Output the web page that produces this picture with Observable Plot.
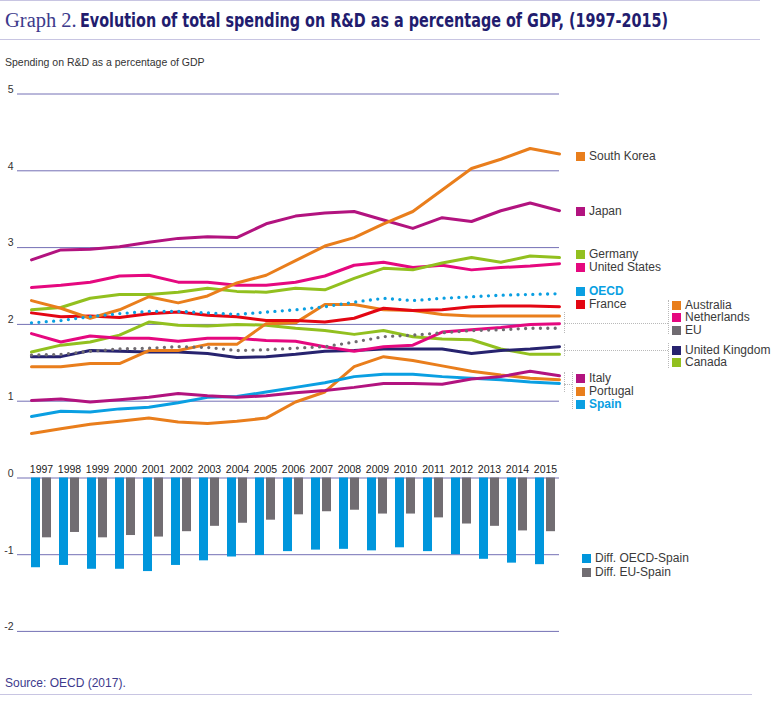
<!DOCTYPE html>
<html>
<head>
<meta charset="utf-8">
<script src="https://cdn.jsdelivr.net/npm/d3@7"></script>
<script src="https://cdn.jsdelivr.net/npm/@observablehq/plot@0.6"></script>
<style>
  html, body { margin: 0; padding: 0; background: #fff; overflow: hidden; }
  body { font-family: "Liberation Sans", Arial, sans-serif; }
  #wrap { position: relative; width: 775px; height: 701px; overflow: hidden; }
  .abs { position: absolute; }
  .rule { position: absolute; left: 0; height: 0; border-top: 1.5px solid #c8c5e2; }
  .leg { position: absolute; height: 11px; line-height: 11px; font-size: 12px; color: #3a3a3a; white-space: nowrap; }
  .leg .sq { position: absolute; left: 0; top: 1px; width: 9px; height: 9px; }
  .leg .tx { position: absolute; left: 13px; top: 0; height: 11px; line-height: 11px; }
  .br { position: absolute; border-color: #b9b9b9; border-style: dotted; border-width: 0; }
  #title { position: absolute; left: 5px; top: 8px; white-space: nowrap; line-height: 24px; height: 24px; }
  #t1 { font-family: "Liberation Serif", "DejaVu Serif", serif; font-size: 20.5px; color: #3d3a8c; display: inline-block; }
  #t2 { font-family: "DejaVu Sans Condensed", "Liberation Sans", sans-serif; font-weight: bold; font-size: 19px; color: #221c6e; display: inline-block; transform-origin: 0 50%; position: absolute; left: 75px; top: 0; }
</style>
</head>
<body>
<div id="wrap">
  <div class="rule" style="top:0px;width:760px"></div>
  <div id="title"><span id="t1">Graph 2.</span><span id="t2">Evolution of total spending on R&amp;D as a percentage of GDP, (1997-2015)</span></div>
  <div class="rule" style="top:39px;width:760px"></div>
  <div class="abs" style="left:5px;top:55px;font-size:10.5px;color:#333;line-height:14px">Spending on R&amp;D as a percentage of GDP</div>
  <div id="plotA" class="abs" style="left:0;top:70px"></div>
  <div id="plotB" class="abs" style="left:0;top:440px"></div>
  <div id="legend"></div>
  <div class="abs" style="left:5px;top:675px;font-size:12px;color:#3d3a8c;line-height:16px">Source: OECD (2017).</div>
  <div class="rule" style="top:694px;width:752px"></div>
</div>
<script>
// ---------- DATA ----------
const years = [1997,1998,1999,2000,2001,2002,2003,2004,2005,2006,2007,2008,2009,2010,2011,2012,2013,2014,2015];

const southKorea  = [2.31,2.21,2.08,2.19,2.36,2.28,2.37,2.54,2.64,2.83,3.02,3.13,3.31,3.47,3.75,4.03,4.15,4.29,4.22];
const japan       = [2.84,2.97,2.98,3.01,3.07,3.12,3.14,3.13,3.31,3.41,3.45,3.47,3.36,3.25,3.39,3.34,3.48,3.58,3.48];
const germany     = [2.19,2.22,2.34,2.39,2.39,2.42,2.47,2.43,2.42,2.47,2.45,2.60,2.73,2.71,2.80,2.87,2.81,2.89,2.87];
const unitedStates= [2.48,2.51,2.55,2.63,2.64,2.55,2.55,2.51,2.51,2.55,2.63,2.77,2.81,2.74,2.77,2.71,2.74,2.76,2.79];
const oecd        = [2.02,2.05,2.10,2.14,2.17,2.17,2.15,2.13,2.16,2.19,2.23,2.29,2.34,2.31,2.34,2.36,2.38,2.39,2.40];
const france      = [2.15,2.10,2.11,2.09,2.14,2.16,2.12,2.10,2.05,2.05,2.03,2.08,2.21,2.18,2.19,2.23,2.24,2.24,2.23];
const australia   = [1.45,1.45,1.49,1.49,1.66,1.66,1.74,1.74,2.01,2.02,2.26,2.26,2.19,2.18,2.13,2.11,2.11,2.11,2.11];
const netherlands = [1.88,1.77,1.85,1.82,1.82,1.78,1.82,1.82,1.79,1.78,1.71,1.65,1.71,1.73,1.90,1.93,1.96,2.00,2.01];
const eu          = [1.60,1.61,1.65,1.68,1.69,1.71,1.70,1.66,1.67,1.69,1.71,1.77,1.84,1.86,1.89,1.92,1.93,1.95,1.95];
const unitedKingdom=[1.58,1.58,1.66,1.65,1.64,1.64,1.62,1.57,1.58,1.61,1.65,1.66,1.68,1.68,1.68,1.62,1.66,1.68,1.71];
const canada      = [1.64,1.73,1.77,1.86,2.03,1.99,1.98,2.00,1.99,1.95,1.92,1.87,1.92,1.84,1.81,1.80,1.68,1.61,1.61];
const italy       = [1.01,1.03,0.99,1.02,1.05,1.10,1.07,1.05,1.07,1.11,1.14,1.18,1.23,1.23,1.22,1.29,1.32,1.39,1.33];
const spain       = [0.80,0.87,0.86,0.90,0.92,0.98,1.05,1.06,1.12,1.18,1.24,1.32,1.35,1.35,1.32,1.30,1.28,1.25,1.23];
const portugal    = [0.58,0.64,0.70,0.74,0.78,0.73,0.71,0.74,0.78,0.99,1.12,1.45,1.58,1.53,1.46,1.39,1.34,1.30,1.28];

const diffOecdSpain = [-1.17,-1.14,-1.19,-1.19,-1.22,-1.14,-1.08,-1.03,-1.01,-0.96,-0.94,-0.93,-0.95,-0.91,-0.96,-1.00,-1.06,-1.11,-1.13];
const diffEuSpain   = [-0.78,-0.71,-0.78,-0.75,-0.77,-0.70,-0.63,-0.59,-0.55,-0.48,-0.44,-0.42,-0.47,-0.47,-0.52,-0.60,-0.63,-0.69,-0.70];

const yTicksTop = [1,2,3,4,5];
const yTicksBottom = [0,-1,-2];

// ---------- STYLES ----------
const C = {
  orange: "#e97e1c", purple: "#b2137f", green: "#92c01f", pink: "#e5087f",
  blue: "#0a9fe2", red: "#e30613", grey: "#6f6b70", navy: "#27236f",
  grid: "#7470b5", barBlue: "#0096dc", barGrey: "#716d72"
};

const series = [
  {name: "Portugal", values: portugal, color: C.orange},
  {name: "Spain", values: spain, color: C.blue},
  {name: "Italy", values: italy, color: C.purple},
  {name: "Canada", values: canada, color: C.green},
  {name: "United Kingdom", values: unitedKingdom, color: C.navy},
  {name: "Netherlands", values: netherlands, color: C.pink},
  {name: "Australia", values: australia, color: C.orange},
  {name: "France", values: france, color: C.red},
  {name: "United States", values: unitedStates, color: C.pink},
  {name: "Germany", values: germany, color: C.green},
  {name: "Japan", values: japan, color: C.purple},
  {name: "South Korea", values: southKorea, color: C.orange}
];
const dotted = [
  {name: "EU", values: eu, color: C.grey},
  {name: "OECD", values: oecd, color: C.blue}
];
const rows = s => s.values.map((v, i) => ({year: years[i], value: v}));

const font = "'Liberation Sans', Arial, sans-serif";

// ---------- PLOT A: lines ----------
const plotA = Plot.plot({
  width: 775, height: 380,
  marginLeft: 17, marginRight: 216, marginTop: 10, marginBottom: 10,
  x: {domain: [1997, 2015], range: [31, 559], axis: null},
  y: {domain: [0, 5], range: [407.5, 23.5], axis: null},
  style: {background: "transparent", fontFamily: font, fontSize: "10.5px", color: "#333"},
  marks: [
    Plot.gridY(yTicksTop, {stroke: C.grid, strokeOpacity: 1, strokeWidth: 1}),
    Plot.axisY(yTicksTop, {tickSize: 0, tickPadding: 4, dy: -4.5, tickFormat: d => String(d), fill: "#333", label: null}),
    ...series.map(s => Plot.line(rows(s), {x: "year", y: "value", stroke: s.color, strokeWidth: 3, strokeLinejoin: "round"})),
    ...dotted.map(s => Plot.line(rows(s), {x: "year", y: "value", stroke: s.color, strokeWidth: 3.3, strokeDasharray: "0 7.4", strokeLinecap: "round"}))
  ]
});
document.getElementById("plotA").appendChild(plotA);

// ---------- PLOT B: bars ----------
const barRows = years.map((y, i) => ({year: String(y), oecd: diffOecdSpain[i], eu: diffEuSpain[i]}));
const plotB = Plot.plot({
  width: 775, height: 205,
  marginLeft: 17, marginRight: 216, marginTop: 37.5, marginBottom: 14.1,
  x: {type: "band", domain: years.map(String), range: [18, 567.5], padding: 0.28, axis: null},
  y: {domain: [-2, 0], range: [190.9, 37.5], axis: null},
  style: {background: "transparent", fontFamily: font, fontSize: "10.5px", color: "#333"},
  marks: [
    Plot.gridY(yTicksBottom, {stroke: C.grid, strokeOpacity: 1, strokeWidth: 1}),
    Plot.axisY(yTicksBottom, {tickSize: 0, tickPadding: 4, dy: -4.5, tickFormat: d => String(d), fill: "#333", label: null}),
    Plot.axisX({anchor: "top", tickSize: 0, tickPadding: 5, fontSize: 10.5, fill: "#222", label: null}),
    Plot.barY(barRows, {x: "year", y: "oecd", fill: C.barBlue, insetRight: 11}),
    Plot.barY(barRows, {x: "year", y: "eu", fill: C.barGrey, insetLeft: 11})
  ]
});
document.getElementById("plotB").appendChild(plotB);

// ---------- TITLE fit ----------
(function () {
  const t2 = document.getElementById("t2");
  const w = t2.getBoundingClientRect().width;
  const target = 588;
  if (w > 0) t2.style.transform = "scaleX(" + (target / w) + ")";
})();

// ---------- LEGEND (layout) ----------
const legendLayout = [
  {label: "South Korea", color: C.orange, x: 576, y: 156},
  {label: "Japan", color: C.purple, x: 576, y: 211},
  {label: "Germany", color: C.green, x: 576, y: 254},
  {label: "United States", color: C.pink, x: 576, y: 267.5},
  {label: "OECD", color: C.blue, x: 576, y: 291, bold: true},
  {label: "France", color: C.red, x: 576, y: 304},
  {label: "Australia", color: C.orange, x: 672, y: 305},
  {label: "Netherlands", color: C.pink, x: 672, y: 317.5},
  {label: "EU", color: C.grey, x: 672, y: 330},
  {label: "United Kingdom", color: C.navy, x: 672, y: 350},
  {label: "Canada", color: C.green, x: 672, y: 362.5},
  {label: "Italy", color: C.purple, x: 576, y: 378.5},
  {label: "Portugal", color: C.orange, x: 576, y: 391},
  {label: "Spain", color: C.blue, x: 576, y: 404, bold: true},
  {label: "Diff. OECD-Spain", color: C.barBlue, x: 582, y: 558.5},
  {label: "Diff. EU-Spain", color: C.barGrey, x: 582, y: 572}
];
const legend = document.getElementById("legend");
for (const it of legendLayout) {
  const d = document.createElement("div");
  d.className = "leg";
  d.style.left = it.x + "px";
  d.style.top = (it.y - 5.5) + "px";
  const sq = document.createElement("span");
  sq.className = "sq"; sq.style.background = it.color;
  const tx = document.createElement("span");
  tx.className = "tx"; tx.textContent = it.label;
  if (it.bold) { tx.style.color = it.color; tx.style.fontWeight = "bold"; }
  d.appendChild(sq); d.appendChild(tx);
  legend.appendChild(d);
}
// brackets
const brackets = [
  {l: 564, t: 312, w: 0, h: 21, s: "l"},
  {l: 564, t: 323, w: 104, h: 0, s: "t"},
  {l: 668, t: 300, w: 0, h: 34, s: "l"},
  {l: 564, t: 344, w: 0, h: 12, s: "l"},
  {l: 564, t: 350, w: 104, h: 0, s: "t"},
  {l: 668, t: 343, w: 0, h: 25, s: "l"},
  {l: 564, t: 372, w: 0, h: 20, s: "l"},
  {l: 564, t: 384, w: 8, h: 0, s: "t"},
  {l: 572, t: 372, w: 0, h: 37, s: "l"}
];
for (const b of brackets) {
  const d = document.createElement("div");
  d.className = "br";
  d.style.left = b.l + "px"; d.style.top = b.t + "px";
  d.style.width = b.w + "px"; d.style.height = b.h + "px";
  if (b.s === "l") d.style.borderLeftWidth = "1px"; else d.style.borderTopWidth = "1px";
  legend.appendChild(d);
}
</script>
</body>
</html>
